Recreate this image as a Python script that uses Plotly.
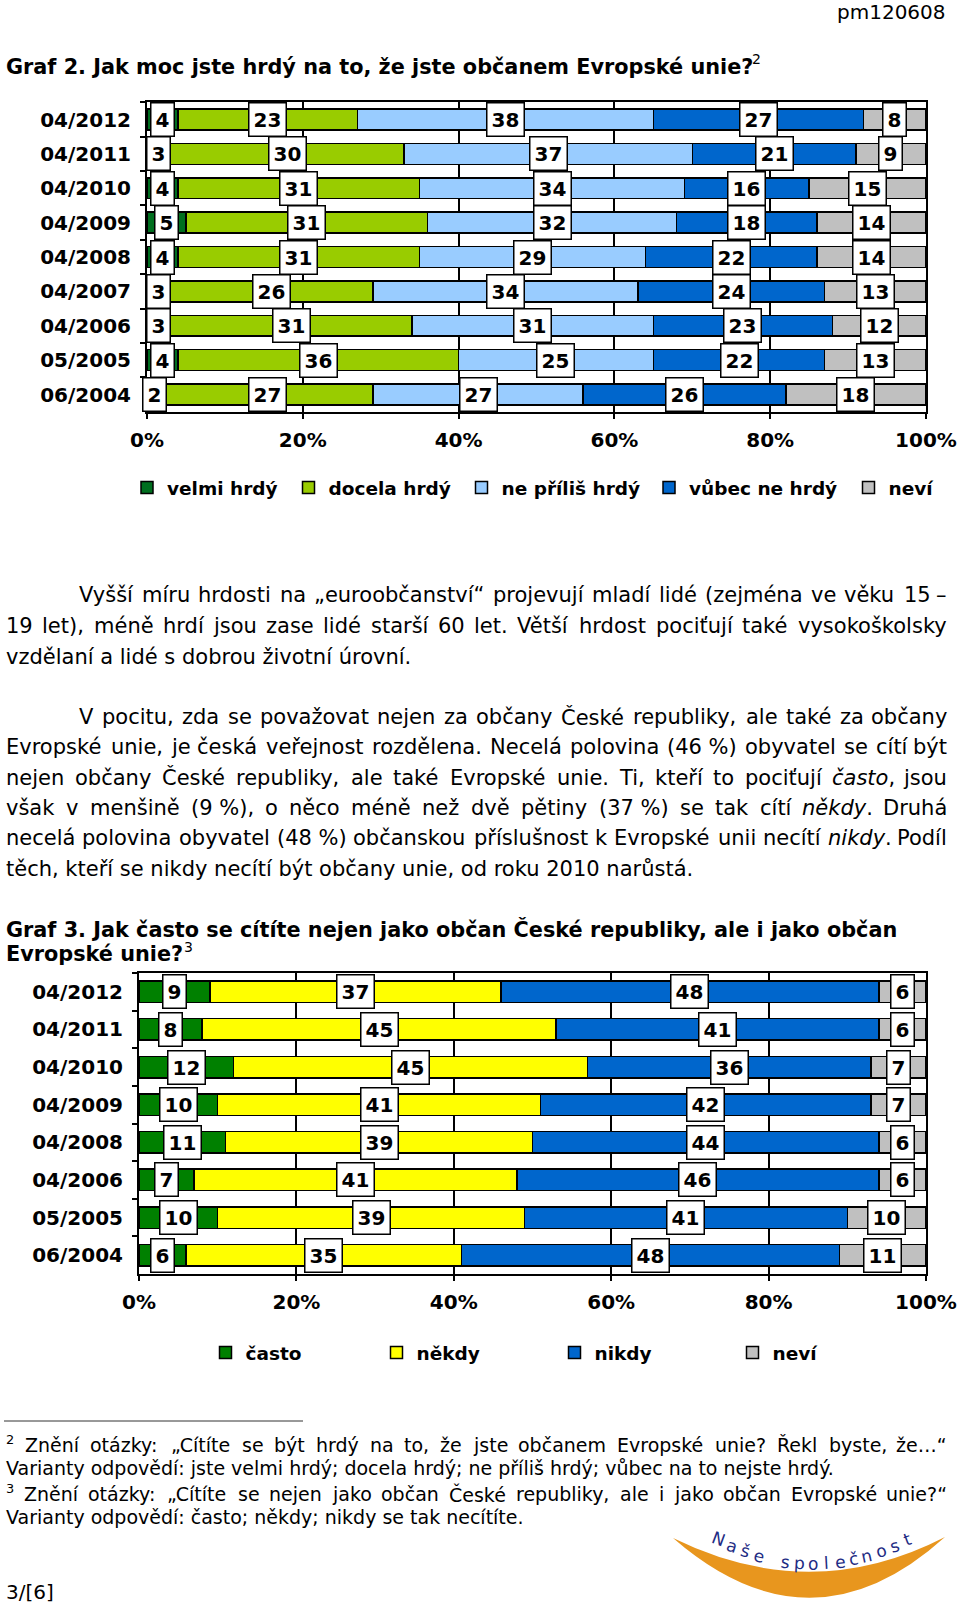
import math
import unicodedata
import plotly.graph_objects as go

W, H = 960, 1605
FONT = "DejaVu Sans"

# ---------------- data: Graf 2 ----------------
periods1 = ["04/2012", "04/2011", "04/2010", "04/2009", "04/2008",
            "04/2007", "04/2006", "05/2005", "06/2004"]
velmi_hrdy = [4, 3, 4, 5, 4, 3, 3, 4, 2]
docela_hrdy = [23, 30, 31, 31, 31, 26, 31, 36, 27]
ne_prilis_hrdy = [38, 37, 34, 32, 29, 34, 31, 25, 27]
vubec_ne_hrdy = [27, 21, 16, 18, 22, 24, 23, 22, 26]
nevi1 = [8, 9, 15, 14, 14, 13, 12, 13, 18]
names1 = ["velmi hrdý", "docela hrdý", "ne příliš hrdý", "vůbec ne hrdý", "neví"]

# ---------------- data: Graf 3 ----------------
periods2 = ["04/2012", "04/2011", "04/2010", "04/2009", "04/2008",
            "04/2006", "05/2005", "06/2004"]
casto = [9, 8, 12, 10, 11, 7, 10, 6]
nekdy = [37, 45, 45, 41, 39, 41, 39, 35]
nikdy = [48, 41, 36, 42, 44, 46, 41, 48]
nevi2 = [6, 6, 7, 7, 6, 6, 10, 11]
names2 = ["často", "někdy", "nikdy", "neví"]

x_ticks = [0, 20, 40, 60, 80, 100]
x_ticktext = [f"{v}%" for v in x_ticks]

cols1 = ["#006F1F", "#99CC00", "#99CCFF", "#0066CC", "#C0C0C0"]
cols2 = ["#008000", "#FFFF00", "#0066CC", "#C0C0C0"]
legw1 = [116.5, 128, 142.5, 154.5, 60]
legw2 = [126, 133, 133, 60]

fig = go.Figure()
series1 = [velmi_hrdy, docela_hrdy, ne_prilis_hrdy, vubec_ne_hrdy, nevi1]
series2 = [casto, nekdy, nikdy, nevi2]

for vals, name, col, lw in zip(series1, names1, cols1, legw1):
    fig.add_trace(go.Bar(orientation="h", y=periods1, x=vals, name=name,
                         marker=dict(color=col, line=dict(color="black", width=1.5)),
                         width=0.61, xaxis="x", yaxis="y", legend="legend",
                         legendwidth=lw, hoverinfo="skip"))
for vals, name, col, lw in zip(series2, names2, cols2, legw2):
    fig.add_trace(go.Bar(orientation="h", y=periods2, x=vals, name=name,
                         marker=dict(color=col, line=dict(color="black", width=1.5)),
                         width=0.57, xaxis="x2", yaxis="y2", legend="legend2",
                         legendwidth=lw, hoverinfo="skip"))

ann = []


def add_labels(series, cats, xref, yref):
    cum = [0] * len(cats)
    for vals in series:
        for i, (c, v) in enumerate(zip(cats, vals)):
            ann.append(dict(x=cum[i] + v / 2, y=c, xref=xref, yref=yref,
                            text=f"<b>{v}</b>", showarrow=False,
                            font=dict(family=FONT, size=20, color="black"),
                            bgcolor="white", bordercolor="black", borderwidth=1.5,
                            borderpad=4, xanchor="center", yanchor="middle"))
            cum[i] += v


add_labels(series1, periods1, "x", "y")
add_labels(series2, periods2, "x2", "y2")

# ---------------- text helpers ----------------
EM = {' ': 0.318, '!': 0.400, '%': 0.950, '(': 0.390, ')': 0.390, ',': 0.318,
      '-': 0.361, '.': 0.318, '/': 0.337, ':': 0.337, ';': 0.337, '?': 0.531,
      '„': 0.518, '“': 0.518, '–': 0.500, '…': 1.000, '\u00a0': 0.318,
      'A': 0.684, 'B': 0.686, 'C': 0.698, 'D': 0.770, 'E': 0.632, 'F': 0.575,
      'G': 0.775, 'H': 0.752, 'I': 0.295, 'J': 0.295, 'K': 0.656, 'L': 0.557,
      'M': 0.863, 'N': 0.748, 'O': 0.787, 'P': 0.603, 'Q': 0.787, 'R': 0.695,
      'S': 0.635, 'T': 0.611, 'U': 0.732, 'V': 0.684, 'W': 0.989, 'X': 0.685,
      'Y': 0.611, 'Z': 0.685,
      'a': 0.613, 'b': 0.635, 'c': 0.550, 'd': 0.635, 'e': 0.615, 'f': 0.352,
      'g': 0.635, 'h': 0.634, 'i': 0.278, 'j': 0.278, 'k': 0.579, 'l': 0.278,
      'm': 0.974, 'n': 0.634, 'o': 0.612, 'p': 0.635, 'q': 0.635, 'r': 0.411,
      's': 0.521, 't': 0.392, 'u': 0.634, 'v': 0.592, 'w': 0.818, 'x': 0.592,
      'y': 0.592, 'z': 0.525}
BOLD_FACTOR = 1.115


def strip_tags(s):
    out, inside = [], False
    for ch in s:
        if ch == '<':
            inside = True
        elif ch == '>':
            inside = False
        elif not inside:
            out.append(ch)
    return "".join(out)


def word_width(tok, size):
    if tok.startswith("<sup>"):
        return 0.45 * size
    w = 0.0
    for ch in strip_tags(tok):
        if ch.isdigit():
            w += 0.636
        elif ch in EM:
            w += EM[ch]
        else:
            base = unicodedata.normalize("NFD", ch)[0]
            w += EM.get(base, 0.6)
    return w * size


def text_ann(s, x, y, size, bold=False, xanchor="left", color="black", angle=0):
    ann.append(dict(text=s, x=x / W, y=1 - y / H, xref="paper", yref="paper",
                    xanchor=xanchor, yanchor="middle", showarrow=False,
                    textangle=angle, borderpad=0,
                    font=dict(family=FONT, size=size, color=color,
                              weight="bold" if bold else "normal")))


def justified(line, left, right, y, size):
    toks = line.split(" ")
    widths = [word_width(t, size) for t in toks]
    gap = (right - left - sum(widths)) / (len(toks) - 1)
    xpos = left
    for i, (t, w) in enumerate(zip(toks, widths)):
        if t.startswith("<sup>"):
            text_ann(strip_tags(t), xpos, y - 6, size * 0.68)
        elif i == len(toks) - 1:
            text_ann(t, right, y, size, xanchor="right")
        else:
            text_ann(t, xpos, y, size)
        xpos += w + gap


# ---------------- page texts ----------------
text_ann("pm120608", 947, 12, 20, xanchor="right")
TITLE = 20.8
title2 = "Graf 2. Jak moc jste hrdý na to, že jste občanem Evropské unie?"
text_ann(title2, 5, 66.5, TITLE, bold=True)
text_ann("2", 5 + word_width(title2, TITLE) * BOLD_FACTOR + 2, 59, 14)

BODY = 21
LEFT, RIGHT, INDENT = 5, 948, 78
para1 = [
    ("Vyšší míru hrdosti na „euroobčanství“ projevují mladí lidé (zejména ve věku 15 –", True, INDENT),
    ("19 let), méně hrdí jsou zase lidé starší 60 let. Větší hrdost pociťují také vysokoškolsky", True, LEFT),
    ("vzdělaní a lidé s dobrou životní úrovní.", False, LEFT),
]
para2 = [
    ("V pocitu, zda se považovat nejen za občany České republiky, ale také za občany", True, INDENT),
    ("Evropské unie, je česká veřejnost rozdělena. Necelá polovina (46\u00a0%) obyvatel se cítí být", True, LEFT),
    ("nejen občany České republiky, ale také Evropské unie. Ti, kteří to pociťují <i>často</i>, jsou", True, LEFT),
    ("však v menšině (9\u00a0%), o něco méně než dvě pětiny (37\u00a0%) se tak cítí <i>někdy</i>. Druhá", True, LEFT),
    ("necelá polovina obyvatel (48\u00a0%) občanskou příslušnost k Evropské unii necítí <i>nikdy</i>. Podíl", True, LEFT),
    ("těch, kteří se nikdy necítí být občany unie, od roku 2010 narůstá.", False, LEFT),
]
ys1 = [595, 626, 657]
ys2 = [717, 747.3, 777.6, 807.9, 838.2, 868.5]
for (line, just, left), y in list(zip(para1, ys1)) + list(zip(para2, ys2)):
    if just:
        justified(line, left, RIGHT, y, BODY)
    else:
        text_ann(line, left, y, BODY)

text_ann("Graf 3. Jak často se cítíte nejen jako občan České republiky, ale i jako občan",
         5, 929, TITLE, bold=True)
title3b = "Evropské unie?"
text_ann(title3b, 5, 954, TITLE, bold=True)
text_ann("3", 5 + word_width(title3b, TITLE) * BOLD_FACTOR + 2, 946.5, 14)

FN = 19
justified("<sup>2</sup> Znění otázky: „Cítíte se být hrdý na to, že jste občanem Evropské unie? Řekl byste, že…“",
          LEFT, RIGHT, 1445, FN)
text_ann("Varianty odpovědí: jste velmi hrdý; docela hrdý; ne příliš hrdý; vůbec na to nejste hrdý.",
         LEFT, 1468, FN)
justified("<sup>3</sup> Znění otázky: „Cítíte se nejen jako občan České republiky, ale i jako občan Evropské unie?“",
          LEFT, RIGHT, 1494, FN)
text_ann("Varianty odpovědí: často; někdy; nikdy se tak necítíte.", LEFT, 1517, FN)

text_ann("3/[6]", 5, 1592, 20)

# logo letters along a curve
P0, P1, P2 = (713, 1536), (812, 1591), (914, 1536)
logo = "Naše společnost"
n = len(logo)
for i, ch in enumerate(logo):
    if ch == " ":
        continue
    t = 0.03 + i * 0.94 / (n - 1)
    x = (1 - t) ** 2 * P0[0] + 2 * (1 - t) * t * P1[0] + t * t * P2[0]
    y = (1 - t) ** 2 * P0[1] + 2 * (1 - t) * t * P1[1] + t * t * P2[1]
    dx = 2 * (1 - t) * (P1[0] - P0[0]) + 2 * t * (P2[0] - P1[0])
    dy = 2 * (1 - t) * (P1[1] - P0[1]) + 2 * t * (P2[1] - P1[1])
    ang = math.degrees(math.atan2(dy, dx)) * 0.75
    text_ann(ch, x, y, 17, xanchor="center", color="#1E2C84", angle=ang)


def P(x, y):
    return f"{x / W:.5f},{1 - y / H:.5f}"


swoosh = (f"M {P(673, 1538)} Q {P(811, 1606)} {P(945, 1537)} "
          f"Q {P(811, 1658)} {P(673, 1538)} Z")
shapes = [
    dict(type="line", xref="paper", yref="paper", x0=4 / W, x1=303 / W,
         y0=1 - 1421 / H, y1=1 - 1421 / H, line=dict(color="#333333", width=1)),
    dict(type="path", xref="paper", yref="paper", path=swoosh,
         fillcolor="#E8961E", line=dict(width=0), layer="below"),
]

xaxis_common = dict(range=[0, 100], tickvals=x_ticks, ticktext=x_ticktext,
                    showgrid=True, gridcolor="black", gridwidth=2,
                    showline=True, mirror=True, linecolor="black", linewidth=2,
                    ticks="outside", ticklen=5, tickwidth=2, tickcolor="black",
                    zeroline=False, automargin=False, fixedrange=True,
                    tickfont=dict(family=FONT, size=20, color="black", weight="bold"),
                    ticklabelstandoff=4)
yaxis_common = dict(type="category", autorange="reversed", showgrid=False,
                    showline=True, mirror=True, linecolor="black", linewidth=2,
                    ticks="outside", tickson="boundaries", ticklen=5, tickwidth=2,
                    tickcolor="black", zeroline=False, automargin=False, fixedrange=True,
                    tickfont=dict(family=FONT, size=20, color="black", weight="bold"),
                    ticklabelstandoff=10)

legend_common = dict(orientation="h", xanchor="left", yanchor="middle",
                     bgcolor="rgba(0,0,0,0)", borderwidth=0, traceorder="normal",
                     font=dict(family=FONT, size=18.5, color="black", weight="bold"))

fig.update_layout(
    template="none",
    width=W, height=H,
    margin=dict(l=0, r=0, t=0, b=0),
    paper_bgcolor="white", plot_bgcolor="white",
    barmode="stack",
    showlegend=True,
    font=dict(family=FONT, color="black"),
    xaxis=dict(xaxis_common, domain=[147 / W, 926 / W], anchor="y"),
    yaxis=dict(yaxis_common, domain=[1 - 412 / H, 1 - 102 / H], anchor="x"),
    xaxis2=dict(xaxis_common, domain=[139 / W, 926 / W], anchor="y2"),
    yaxis2=dict(yaxis_common, domain=[1 - 1274 / H, 1 - 973 / H], anchor="x2"),
    legend=dict(legend_common, x=127 / W, y=1 - 488 / H),
    legend2=dict(legend_common, x=205.5 / W, y=1 - 1353 / H),
    annotations=ann,
    shapes=shapes,
)

fig.write_html("out.html")
